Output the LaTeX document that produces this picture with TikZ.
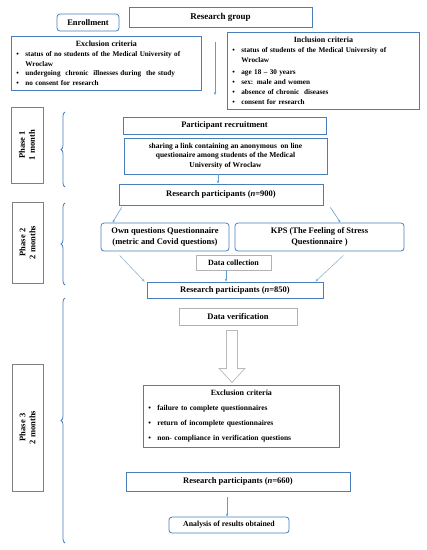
\documentclass[tikz,border=0pt]{standalone}
\usepackage{fontspec}
\setmainfont{Liberation Serif}
\usepackage{xcolor}
\usepackage{tikz}
\usetikzlibrary{arrows.meta, positioning, calc, decorations.pathreplacing}

\definecolor{boxblue}{RGB}{74,126,187}
\definecolor{arrowblue}{RGB}{100,155,205}
\definecolor{lightarrow}{RGB}{150,180,210}

% bullet line with hanging indent
\newcommand{\critem}[1]{\par\hangindent=9pt\hangafter=1\noindent\makebox[9pt][l]{\textbullet}#1}

\begin{document}
\begin{tikzpicture}[x=1pt, y=-1pt,
  box/.style={draw=boxblue, line width=0.8pt, fill=white, inner sep=2pt, align=center,
    font=\bfseries\fontsize{8.5}{10}\selectfont},
  rbox/.style={box, rounded corners=3pt},
  graybox/.style={box, draw=gray!60},
  critbox/.style={box, align=left, inner sep=5pt, anchor=north west,
    font=\bfseries\fontsize{7.2}{9.6}\selectfont},
  phasebox/.style={draw=gray, line width=0.8pt, rotate=90, align=center, inner sep=1pt,
    font=\bfseries\fontsize{8.5}{10}\selectfont},
  arr/.style={-{Stealth[length=3pt,width=2.5pt]}, arrowblue, line width=0.6pt},
  larr/.style={arr, lightarrow},
  phbrace/.style={decorate, decoration={brace, amplitude=4pt}, boxblue, line width=0.8pt}]

  \useasboundingbox (0,0) rectangle (427,550);

  % Top
  \node[box, font=\bfseries\fontsize{9}{10}\selectfont, minimum width=183pt, minimum height=20pt] (group) at (220.5,17) {Research group};
  \node[rbox, minimum width=62pt, minimum height=17pt] (enroll) at (88,22.5) {Enrollment};

  \node[critbox, text width=180pt] (excl) at (11,36)
    {\centerline{\fontsize{8}{10}\selectfont Exclusion criteria}
     \critem{status of no students of the Medical University of \mbox{Wroclaw}}
     \critem{undergoing \ chronic \ illnesses during \ the study}
     \critem{no consent for research}\par\vspace{15pt}};

  \node[critbox, text width=182pt] (incl) at (227,32)
    {\centerline{\fontsize{8}{10}\selectfont Inclusion criteria}
     \critem{status of students of the Medical University of \mbox{Wroclaw}}
     \vspace{2.5pt}\critem{age 18 -- 30 years}
     \vspace{1pt}\critem{sex: male and women}
     \critem{absence of chronic \ diseases}
     \critem{consent for research}\par\vspace{2pt}};

  \coordinate (grpend) at (215,95);
  \draw[arr] ([xshift=-5.5pt,yshift=-15pt]group.south) -- (grpend);

  % Phase 1
  \node[phasebox, minimum width=76pt, minimum height=32pt] (ph1) at (27,145) {Phase 1\\1 month};
  \draw[phbrace] (65,187) -- (65,112);

  \node[box, minimum width=203pt, minimum height=17pt] (recr) at (224.5,125.5) {Participant recruitment};
  \node[box, font=\bfseries\fontsize{7.5}{9.5}\selectfont, minimum width=203pt, minimum height=36pt] (share) at (225.5,156)
    {sharing a link containing an anonymous \ on line\\questionaire among students of the Medical\\University of Wroclaw};
  \node[box, minimum width=204pt, minimum height=21pt] (rp900) at (221,194.5) {Research participants (\textit{n}=900)};
  \draw[arr] (share.south -| 218,0) -- (rp900.north -| 218,0);

  % Phase 2
  \node[phasebox, minimum width=81pt, minimum height=31pt] (ph2) at (27.5,242.5) {Phase 2\\2 months};
  \draw[phbrace] (65,285) -- (65,203);

  \node[rbox, font=\bfseries\fontsize{8.5}{11}\selectfont, minimum width=128pt, minimum height=28pt] (own) at (165,237)
    {Own questions Questionnaire\\(metric and Covid questions)};
  \node[rbox, font=\bfseries\fontsize{8.5}{11}\selectfont, minimum width=169pt, minimum height=28pt] (kps) at (319.5,237)
    {KPS (The Feeling of Stress\\Questionnaire )};
  \draw[arr] ([xshift=3pt,yshift=-2pt]rp900.south west) -- ([xshift=12pt]own.north west);
  \draw[arr] ([xshift=7pt,yshift=-2pt]rp900.south east) -- ([xshift=-64pt]kps.north east);

  \node[graybox, font=\bfseries\fontsize{8}{10}\selectfont, minimum width=75pt, minimum height=15pt] (dc) at (233.5,262.5) {Data collection};
  \node[box, minimum width=176pt, minimum height=16pt] (rp850) at (235,290) {Research participants (\textit{n}=850)};
  \draw[arr] (dc.south -| 226,0) -- (rp850.north -| 226,0);
  \draw[larr] ([xshift=19pt,yshift=-4pt]own.south west) -- ([xshift=-2pt]rp850.north west);
  \draw[larr] ([xshift=-61pt,yshift=-4pt]kps.south east) -- ([xshift=-8pt]rp850.north east);

  % Phase 3
  \node[phasebox, minimum width=127pt, minimum height=31pt] (ph3) at (27.5,427.5) {Phase 3\\2 months};
  \draw[phbrace] (65,543) -- (65,298);

  \node[graybox, minimum width=118pt, minimum height=17pt] (dv) at (238,316.5) {Data verification};
  \coordinate (bigtop) at ($(dv.south)+(-6,5)$);
  \draw[gray!55, fill=white, line width=0.7pt] (bigtop) -- ++(-5.5,0) -- ++(0,38) -- ++(-7.5,0)
    -- ++(13,14) -- ++(13,-14) -- ++(-7.5,0) -- ++(0,-38) -- cycle;

  \node[critbox, text width=186pt, font=\bfseries\fontsize{7.5}{15}\selectfont] (excl2) at (143,385)
    {\centerline{\fontsize{8}{10}\selectfont Exclusion criteria}
     \critem{failure to complete questionnaires}
     \critem{return of incomplete questionnaires}
     \critem{non- compliance in verification questions}\par\vspace{13pt}};

  \node[box, minimum width=224pt, minimum height=19pt] (rp660) at (238,481.5) {Research participants (\textit{n}=660)};
  \node[rbox, font=\bfseries\fontsize{7.8}{9}\selectfont, minimum width=120pt, minimum height=16pt] (anal) at (229,525) {Analysis of results obtained};
  \draw[arr] ([yshift=-6pt]rp660.south -| 227,0) -- (anal.north -| 227,0);
\end{tikzpicture}
\end{document}
